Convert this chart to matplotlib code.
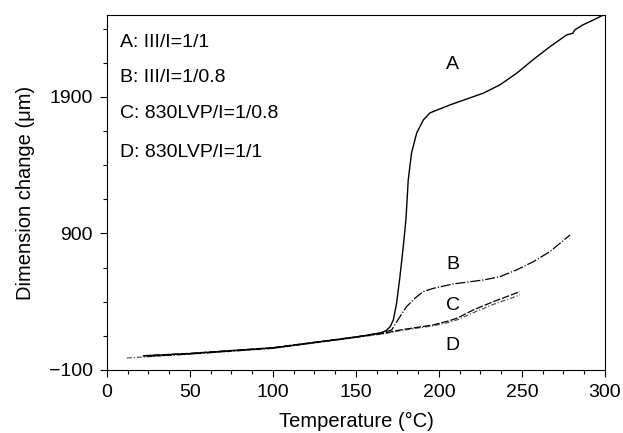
import matplotlib
matplotlib.use("Agg")
import matplotlib.pyplot as plt
from matplotlib.ticker import MultipleLocator

plt.rcParams["font.family"] = ["Liberation Sans", "DejaVu Sans"]

# curve data (temperature °C, dimension change µm)
a_x = [22, 50, 100, 150, 165, 168, 170.5, 172.5, 174.5, 176.5, 178.5, 180.1, 181.5, 183.5,
       186.6, 190.6, 194.6, 206.6, 226.7, 236.7, 246.8, 256.6, 266.9, 277, 279.5,
       280.7, 281.9, 286.7, 293, 300]
a_y = [3, 20, 62, 140, 172, 188, 215, 266, 390, 583, 803, 999, 1292, 1490,
       1636, 1731, 1783, 1841, 1927, 1988, 2073, 2171, 2268, 2354, 2362,
       2366, 2391, 2427, 2463, 2505]

b_x = [24, 50, 100, 150, 165, 171.5, 176.5, 180.5, 185.5, 190.5, 196.6, 208.6,
       226.7, 236.7, 246.8, 256.8, 266.9, 279]
b_y = [0, 18, 60, 142, 172, 193, 290, 364, 425, 474, 498, 530,
       559, 583, 633, 693, 767, 889]

c_x = [22, 50, 100, 150, 166.5, 176.5, 196.6, 206.6, 210.7, 212.7, 220.7, 232.7, 248.8]
c_y = [5, 22, 64, 143, 168, 193, 230, 262, 279, 290, 340, 400, 474]

d_x = [12, 50, 100, 150, 166.5, 176.5, 196.6, 206.6, 212, 220.7, 232.7, 248.8]
d_y = [-12, 16, 58, 138, 165, 188, 224, 250, 272, 320, 380, 449]

legend_lines = ["A: III/I=1/1", "B: III/I=1/0.8", "C: 830LVP/I=1/0.8", "D: 830LVP/I=1/1"]
legend_y = [2296, 2039, 1775, 1490]

curve_labels = ["A", "B", "C", "D"]
curve_label_y = [2134, 669, 369, 76]

fig = plt.figure(figsize=(6.23, 4.33), dpi=100)
ax = fig.add_axes([0.1717, 0.1455, 0.7993, 0.82])

ax.plot(d_x, d_y, color="#555555", lw=0.9, ls=(0, (4, 1.5, 1, 1.5)))
ax.plot(c_x, c_y, color="black", lw=0.9, ls=(0, (6, 1.5)))
ax.plot(b_x, b_y, color="black", lw=0.9, ls=(0, (8, 1.5, 1, 1.5)))
ax.plot(a_x, a_y, color="black", lw=1.0)

for t, yv in zip(legend_lines, legend_y):
    ax.text(7.8, yv, t, fontsize=14, ha="left", va="center")
for t, yv in zip(curve_labels, curve_label_y):
    ax.text(208.4, yv, t, fontsize=14, ha="center", va="center")

ax.set_xlim(0, 300)
ax.set_ylim(-100, 2500)
ax.xaxis.set_major_locator(MultipleLocator(50))
ax.xaxis.set_minor_locator(MultipleLocator(12.5))
ax.yaxis.set_major_locator(MultipleLocator(1000, offset=-100))
ax.yaxis.set_minor_locator(MultipleLocator(250, offset=-100))
ax.tick_params(which="major", direction="out", length=5, width=0.8, labelsize=14, pad=5)
ax.tick_params(which="minor", direction="out", length=3, width=0.8)
for s in ax.spines.values():
    s.set_linewidth(0.8)

ax.set_xlabel("Temperature (°C)", fontsize=14.5, labelpad=8)
ax.set_ylabel("Dimension change (μm)", fontsize=14.5, labelpad=10)

fig.savefig("out.png", dpi=100)
